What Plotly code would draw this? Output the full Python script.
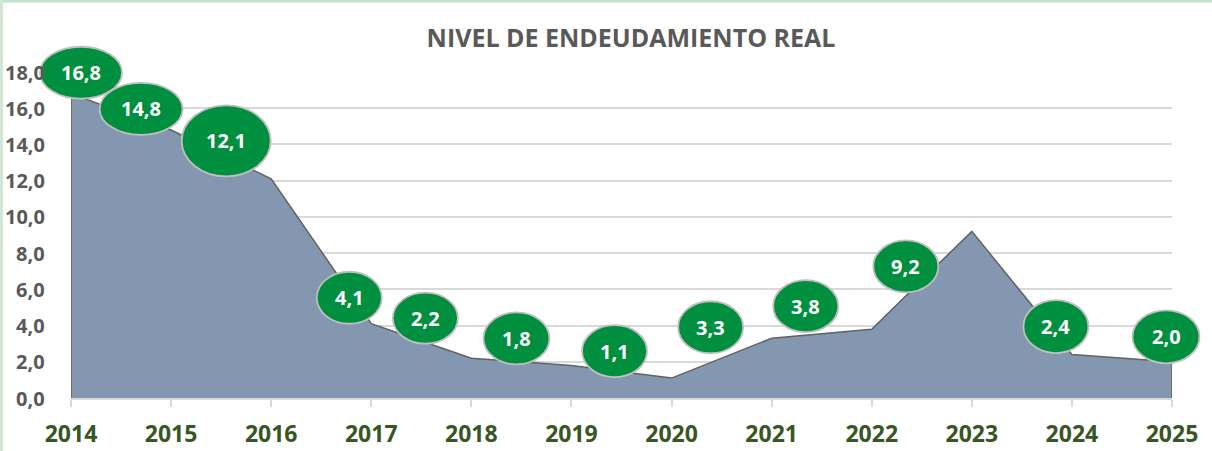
import plotly.graph_objects as go

# ---- data ----
years = [2014, 2015, 2016, 2017, 2018, 2019, 2020, 2021, 2022, 2023, 2024, 2025]
values = [16.8, 14.8, 12.1, 4.1, 2.2, 1.8, 1.1, 3.3, 3.8, 9.2, 2.4, 2.0]
y_ticks = [0, 2, 4, 6, 8, 10, 12, 14, 16, 18]
y_tick_labels = ["0,0", "2,0", "4,0", "6,0", "8,0", "10,0", "12,0", "14,0", "16,0", "18,0"]
title_text = "NIVEL DE ENDEUDAMIENTO REAL"

# ---- label styling (pixel offsets of bubble centre from its point, bubble size) ----
label_dx = [10, -30, -45, -22, -46, -55, -57, -61, -66, -66, -16, -6]
label_dy = [21, 21, 38, 26, 40, 27, 27, 11, 23, -35, 28, 25]
label_w = [82, 83, 89, 65, 65, 66, 65, 65, 65, 65, 65, 67]
label_h = [52, 52, 71, 52, 51, 52, 52, 52, 52, 52, 53, 53]

W, H = 1212, 451
PL, PR, PT, PB = 71, 1172, 72, 398  # plot area in pixels
x_range = [years[0], years[-1]]
y_range = [0, 18]

ppx = (PR - PL) / (x_range[1] - x_range[0])
ppy = (PB - PT) / (y_range[1] - y_range[0])

GREEN = "#008F3E"
AREA = "#8497B0"
GRID = "#D9D9D9"

fig = go.Figure()

fig.add_trace(go.Scatter(
    x=years, y=values, fill="tozeroy", fillcolor=AREA,
    mode="lines", line=dict(width=0), hoverinfo="skip", showlegend=False,
))
fig.add_trace(go.Scatter(
    x=[years[0]] + years + [years[-1]], y=[0] + values + [0],
    mode="lines", line=dict(color="#626262", width=1.5),
    hoverinfo="skip", showlegend=False,
))
# invisible trace on the full-figure overlay axes (used for unclipped bubbles)
fig.add_trace(go.Scatter(
    x=years, y=values, xaxis="x2", yaxis="y2", mode="markers",
    marker=dict(opacity=0), hoverinfo="skip", showlegend=False,
))

for i, (yr, v) in enumerate(zip(years, values)):
    dx, dy, w, h = label_dx[i], label_dy[i], label_w[i], label_h[i]
    fig.add_shape(
        type="circle", xref="x2", yref="y2",
        xsizemode="pixel", ysizemode="pixel",
        xanchor=yr, yanchor=v,
        x0=dx - w / 2, x1=dx + w / 2, y0=dy - h / 2, y1=dy + h / 2,
        fillcolor=GREEN, line=dict(color="#BFBFBF", width=1.8), layer="above",
    )
    fig.add_annotation(
        x=yr, y=v, xref="x", yref="y", xshift=dx, yshift=dy,
        text=f"{v:.1f}".replace(".", ","), showarrow=False,
        font=dict(family="Open Sans", size=20, color="white", weight="bold"),
    )

# y tick labels as text above the bubbles (the reference draws them on top)
for t, lab in zip(y_ticks, y_tick_labels):
    fig.add_annotation(
        x=0, xref="x domain", y=t, yref="y", xanchor="right", yanchor="middle",
        xshift=-24, text=lab, showarrow=False,
        font=dict(family="Open Sans", size=20, color="#595959", weight="bold"),
    )

# frame lines (top and left edges)
fig.add_shape(type="rect", xref="paper", yref="paper", x0=0, x1=1, y0=1 - 2.5 / H, y1=1,
              fillcolor="#BFE3CB", line=dict(width=0), layer="above")
fig.add_shape(type="rect", xref="paper", yref="paper", x0=0, x1=3 / W, y0=0, y1=1,
              fillcolor="#D3E6D6", line=dict(width=0), layer="above")

fig.update_layout(
    width=W, height=H,
    margin=dict(l=0, r=0, t=0, b=0, autoexpand=False),
    paper_bgcolor="white", plot_bgcolor="rgba(0,0,0,0)",
    separators=",.",
    showlegend=False,
    title=dict(
        text=title_text, x=631 / W, xanchor="center", y=1 - 38 / H, yanchor="middle",
        font=dict(family="Open Sans", size=25, color="#595959", weight="bold"),
        automargin=False,
    ),
    xaxis=dict(
        domain=[PL / W, PR / W], range=x_range, tickvals=years, automargin=False,
        showgrid=False, zeroline=False,
        showline=True, linecolor=GRID, linewidth=1.5,
        ticks="outside", ticklen=7, tickcolor=GRID, tickwidth=1.5,
        ticklabelstandoff=8,
        tickfont=dict(family="Open Sans", size=23, color="#375623", weight="bold"),
    ),
    yaxis=dict(
        domain=[(H - PB) / H, (H - PT) / H], range=y_range, tickvals=y_ticks,
        automargin=False, showticklabels=False,
        showgrid=True, gridcolor=GRID, gridwidth=1.5,
        zeroline=False, showline=False, ticks="",
    ),
    xaxis2=dict(
        domain=[0, 1], anchor="y2", visible=False, automargin=False,
        range=[x_range[0] - PL / ppx, x_range[1] + (W - PR) / ppx],
    ),
    yaxis2=dict(
        domain=[0, 1], anchor="x2", visible=False, automargin=False,
        range=[y_range[0] - (H - PB) / ppy, y_range[1] + PT / ppy],
    ),
)

fig.write_html(
    "out.html",
    config={"displayModeBar": False},
    post_script="document.body.style.margin='0';document.body.style.padding='0';",
)
